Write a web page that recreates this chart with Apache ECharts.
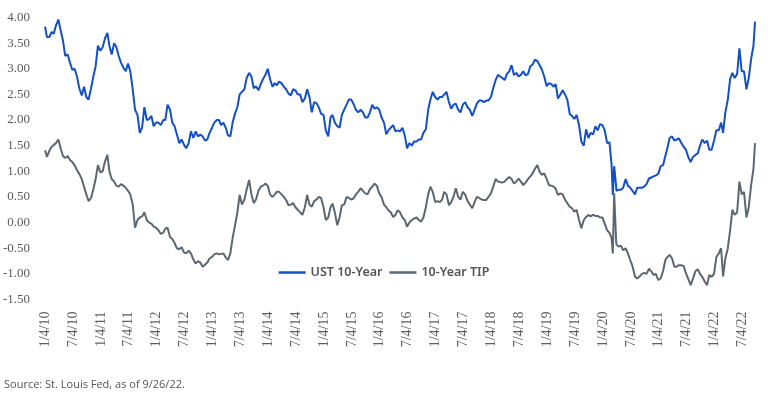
<!DOCTYPE html>
<html>
<head>
<meta charset="utf-8">
<title>UST 10-Year vs 10-Year TIP</title>
<script src="https://cdn.jsdelivr.net/npm/echarts@6/dist/echarts.min.js"></script>
<style>
  html, body { margin: 0; padding: 0; background: #fff; }
  #chart { width: 768px; height: 398px; }
</style>
</head>
<body>
<div id="chart"></div>
<script>
// semi-monthly readings, one line per year
const dates = [
  '2010-01-04','2010-01-16','2010-02-01','2010-02-16','2010-03-01','2010-03-16','2010-04-01','2010-04-16','2010-05-01','2010-05-16','2010-06-01','2010-06-16','2010-07-01','2010-07-16','2010-08-01','2010-08-16','2010-09-01','2010-09-16','2010-10-01','2010-10-16','2010-11-01','2010-11-16','2010-12-01','2010-12-16',
  '2011-01-01','2011-01-16','2011-02-01','2011-02-16','2011-03-01','2011-03-16','2011-04-01','2011-04-16','2011-05-01','2011-05-16','2011-06-01','2011-06-16','2011-07-01','2011-07-16','2011-08-01','2011-08-16','2011-09-01','2011-09-16','2011-10-01','2011-10-16','2011-11-01','2011-11-16','2011-12-01','2011-12-16',
  '2012-01-01','2012-01-16','2012-02-01','2012-02-16','2012-03-01','2012-03-16','2012-04-01','2012-04-16','2012-05-01','2012-05-16','2012-06-01','2012-06-16','2012-07-01','2012-07-16','2012-08-01','2012-08-16','2012-09-01','2012-09-16','2012-10-01','2012-10-16','2012-11-01','2012-11-16','2012-12-01','2012-12-16',
  '2013-01-01','2013-01-16','2013-02-01','2013-02-16','2013-03-01','2013-03-16','2013-04-01','2013-04-16','2013-05-01','2013-05-16','2013-06-01','2013-06-16','2013-07-01','2013-07-16','2013-08-01','2013-08-16','2013-09-01','2013-09-16','2013-10-01','2013-10-16','2013-11-01','2013-11-16','2013-12-01','2013-12-16',
  '2014-01-01','2014-01-16','2014-02-01','2014-02-16','2014-03-01','2014-03-16','2014-04-01','2014-04-16','2014-05-01','2014-05-16','2014-06-01','2014-06-16','2014-07-01','2014-07-16','2014-08-01','2014-08-16','2014-09-01','2014-09-16','2014-10-01','2014-10-16','2014-11-01','2014-11-16','2014-12-01','2014-12-16',
  '2015-01-01','2015-01-16','2015-02-01','2015-02-16','2015-03-01','2015-03-16','2015-04-01','2015-04-16','2015-05-01','2015-05-16','2015-06-01','2015-06-16','2015-07-01','2015-07-16','2015-08-01','2015-08-16','2015-09-01','2015-09-16','2015-10-01','2015-10-16','2015-11-01','2015-11-16','2015-12-01','2015-12-16',
  '2016-01-01','2016-01-16','2016-02-01','2016-02-16','2016-03-01','2016-03-16','2016-04-01','2016-04-16','2016-05-01','2016-05-16','2016-06-01','2016-06-16','2016-07-01','2016-07-16','2016-08-01','2016-08-16','2016-09-01','2016-09-16','2016-10-01','2016-10-16','2016-11-01','2016-11-16','2016-12-01','2016-12-16',
  '2017-01-01','2017-01-16','2017-02-01','2017-02-16','2017-03-01','2017-03-16','2017-04-01','2017-04-16','2017-05-01','2017-05-16','2017-06-01','2017-06-16','2017-07-01','2017-07-16','2017-08-01','2017-08-16','2017-09-01','2017-09-16','2017-10-01','2017-10-16','2017-11-01','2017-11-16','2017-12-01','2017-12-16',
  '2018-01-01','2018-01-16','2018-02-01','2018-02-16','2018-03-01','2018-03-16','2018-04-01','2018-04-16','2018-05-01','2018-05-16','2018-06-01','2018-06-16','2018-07-01','2018-07-16','2018-08-01','2018-08-16','2018-09-01','2018-09-16','2018-10-01','2018-10-16','2018-11-01','2018-11-16','2018-12-01','2018-12-16',
  '2019-01-01','2019-01-16','2019-02-01','2019-02-16','2019-03-01','2019-03-16','2019-04-01','2019-04-16','2019-05-01','2019-05-16','2019-06-01','2019-06-16','2019-07-01','2019-07-16','2019-08-01','2019-08-16','2019-09-01','2019-09-16','2019-10-01','2019-10-16','2019-11-01','2019-11-16','2019-12-01','2019-12-16',
  '2020-01-01','2020-01-16','2020-02-01','2020-02-16','2020-03-01','2020-03-09','2020-03-18','2020-03-31','2020-04-01','2020-04-16','2020-05-01','2020-05-16','2020-06-01','2020-06-16','2020-07-01','2020-07-16','2020-08-01','2020-08-16','2020-09-01','2020-09-16','2020-10-01','2020-10-16','2020-11-01','2020-11-16','2020-12-01','2020-12-16',
  '2021-01-01','2021-01-16','2021-02-01','2021-02-16','2021-03-01','2021-03-16','2021-04-01','2021-04-16','2021-05-01','2021-05-16','2021-06-01','2021-06-16','2021-07-01','2021-07-16','2021-08-01','2021-08-16','2021-09-01','2021-09-16','2021-10-01','2021-10-16','2021-11-01','2021-11-16','2021-12-01','2021-12-16',
  '2022-01-01','2022-01-16','2022-02-01','2022-02-16','2022-03-01','2022-03-16','2022-04-01','2022-04-16','2022-05-01','2022-05-16','2022-06-01','2022-06-16','2022-07-01','2022-07-16','2022-08-01','2022-08-16','2022-09-01','2022-09-16','2022-09-26'
]

const ust10 = [
  3.82,3.62,3.62,3.72,3.68,3.84,3.96,3.75,3.55,3.25,3.28,3.12,2.98,3.00,2.85,2.62,2.48,2.65,2.45,2.40,2.62,2.85,3.05,3.45,
  3.35,3.42,3.60,3.70,3.45,3.28,3.50,3.42,3.25,3.12,3.02,2.95,3.10,2.95,2.60,2.20,2.10,1.75,1.85,2.25,2.00,2.02,2.08,1.88,
  1.95,1.95,1.90,2.00,2.00,2.30,2.20,1.95,1.88,1.72,1.55,1.62,1.52,1.45,1.55,1.78,1.65,1.78,1.68,1.72,1.68,1.60,1.62,1.75,
  1.85,1.95,2.00,2.00,1.90,1.95,1.85,1.70,1.68,1.95,2.13,2.25,2.50,2.55,2.60,2.82,2.92,2.85,2.62,2.66,2.58,2.70,2.80,2.88,
  3.00,2.80,2.65,2.72,2.68,2.75,2.72,2.65,2.60,2.52,2.48,2.60,2.58,2.50,2.50,2.35,2.42,2.60,2.45,2.15,2.35,2.33,2.25,2.12,
  2.10,1.80,1.68,2.05,2.10,1.95,1.88,1.85,2.10,2.20,2.30,2.40,2.40,2.32,2.20,2.15,2.20,2.15,2.05,2.05,2.15,2.30,2.22,2.25,
  2.20,2.05,1.95,1.72,1.80,1.85,1.90,1.78,1.80,1.78,1.85,1.70,1.45,1.55,1.50,1.58,1.58,1.62,1.62,1.75,1.82,2.20,2.40,2.55,
  2.45,2.40,2.45,2.45,2.42,2.55,2.35,2.22,2.30,2.32,2.20,2.15,2.30,2.35,2.25,2.20,2.08,2.20,2.32,2.38,2.38,2.35,2.38,2.38,
  2.45,2.62,2.78,2.88,2.85,2.82,2.78,2.90,2.95,3.07,2.88,2.92,2.85,2.88,2.95,2.87,2.90,3.05,3.08,3.18,3.15,3.07,2.98,2.85,
  2.66,2.72,2.70,2.65,2.70,2.42,2.50,2.58,2.50,2.40,2.12,2.08,2.02,2.10,1.90,1.58,1.50,1.82,1.65,1.75,1.72,1.88,1.80,1.92,
  1.90,1.80,1.55,1.57,1.13,0.54,1.10,0.70,0.62,0.64,0.64,0.68,0.85,0.72,0.68,0.62,0.55,0.68,0.68,0.68,0.70,0.75,0.86,0.88,0.90,0.92,
  0.95,1.10,1.12,1.30,1.45,1.65,1.68,1.60,1.62,1.64,1.55,1.48,1.42,1.28,1.18,1.28,1.32,1.35,1.50,1.62,1.55,1.60,1.42,1.42,
  1.60,1.80,1.80,1.95,1.75,2.15,2.40,2.80,2.92,2.82,2.90,3.40,2.95,2.95,2.60,2.82,3.20,3.45,3.92
]

const tips10 = [
  1.41,1.28,1.40,1.48,1.45,1.55,1.62,1.45,1.30,1.26,1.30,1.22,1.18,1.12,1.02,0.95,0.85,0.70,0.55,0.42,0.48,0.65,0.85,1.12,
  0.98,1.00,1.20,1.32,1.00,0.85,0.80,0.72,0.70,0.75,0.72,0.68,0.62,0.55,0.35,-0.10,0.05,0.10,0.12,0.20,0.05,0.00,-0.02,-0.08,
  -0.10,-0.15,-0.22,-0.20,-0.12,-0.10,-0.28,-0.32,-0.40,-0.50,-0.52,-0.48,-0.58,-0.60,-0.55,-0.60,-0.72,-0.80,-0.75,-0.78,-0.86,-0.82,-0.78,-0.70,
  -0.67,-0.62,-0.60,-0.62,-0.62,-0.60,-0.68,-0.73,-0.60,-0.30,-0.05,0.20,0.54,0.35,0.45,0.65,0.83,0.55,0.38,0.45,0.62,0.70,0.72,0.76,
  0.72,0.55,0.50,0.55,0.60,0.60,0.55,0.50,0.44,0.34,0.35,0.38,0.30,0.25,0.20,0.15,0.30,0.54,0.35,0.31,0.42,0.45,0.50,0.48,
  0.30,0.05,0.10,0.30,0.37,0.20,-0.05,0.10,0.34,0.35,0.50,0.48,0.45,0.47,0.55,0.60,0.67,0.62,0.57,0.55,0.65,0.70,0.76,0.72,
  0.57,0.50,0.35,0.30,0.24,0.20,0.11,0.15,0.24,0.20,0.10,0.05,-0.08,0.00,0.05,0.08,0.10,0.05,0.02,0.10,0.30,0.55,0.70,0.60,
  0.40,0.42,0.40,0.45,0.60,0.55,0.34,0.40,0.50,0.67,0.50,0.45,0.60,0.55,0.42,0.35,0.28,0.40,0.50,0.48,0.45,0.44,0.44,0.50,
  0.57,0.70,0.85,0.80,0.83,0.78,0.80,0.85,0.89,0.85,0.76,0.80,0.86,0.80,0.73,0.78,0.85,0.90,0.96,1.05,1.12,0.99,0.93,0.96,
  0.85,0.73,0.72,0.70,0.66,0.54,0.57,0.55,0.45,0.38,0.31,0.28,0.21,0.25,0.05,-0.11,0.05,0.11,0.15,0.12,0.15,0.13,0.13,0.10,
  0.10,-0.02,-0.15,-0.20,-0.30,-0.60,0.57,-0.37,-0.42,-0.47,-0.45,-0.54,-0.50,-0.60,-0.73,-0.85,-1.05,-1.09,-1.05,-1.00,-0.98,-1.00,-0.90,-0.95,-1.02,-1.00,
  -1.12,-1.09,-0.95,-0.73,-0.67,-0.63,-0.70,-0.86,-0.86,-0.83,-0.83,-0.85,-0.99,-1.10,-1.22,-1.09,-0.95,-0.91,-1.00,-1.06,-1.15,-1.22,-1.02,-1.06,
  -1.00,-0.67,-0.60,-0.50,-1.05,-0.70,-0.50,-0.15,0.25,0.15,0.20,0.80,0.55,0.60,0.10,0.30,0.74,1.05,1.55
]

const seriesNames = ['UST 10-Year', '10-Year TIP']
const seriesColors = ['#1450c4', '#5d6770']
const sourceNote = 'Source: St. Louis Fed, as of 9/26/22.'

// x is counted in half-years from 1/4/10, so every tick lands on 1/4 or 7/4
const start = Date.UTC(2010, 0, 4)
const halfYear = 182.625 * 86400000
const toX = s => {
  const p = s.split('-').map(Number)
  return (Date.UTC(p[0], p[1] - 1, p[2]) - start) / halfYear
}
const xs = dates.map(toX)
const tickLabel = v => {
  if (Math.abs(v - Math.round(v)) > 1e-6) return ''
  const k = Math.round(v)
  const yy = 10 + Math.floor(k / 2)
  return (k % 2 === 0 ? '1/4/' : '7/4/') + yy
}

const chart = echarts.init(document.getElementById('chart'), null, { renderer: 'canvas' })

const option = {
  animation: false,
  backgroundColor: '#fff',
  grid: { left: 45, right: 13, top: 17.5, bottom: 98.5 },
  legend: {
    data: seriesNames,
    left: 'center',
    top: 261,
    icon: 'rect',
    itemWidth: 27,
    itemHeight: 2.5,
    itemGap: 7,
    textStyle: {
      fontFamily: 'Noto Sans',
      fontWeight: 600,
      fontSize: 12.5,
      color: '#555'
    }
  },
  xAxis: {
    type: 'value',
    min: 0,
    max: xs[xs.length - 1],
    interval: 1,
    axisLine: { show: false },
    axisTick: { show: false },
    splitLine: { show: false },
    axisLabel: {
      rotate: 90,
      margin: 12,
      fontFamily: 'Liberation Serif',
      fontSize: 14,
      color: '#5f5f5f',
      formatter: tickLabel
    }
  },
  yAxis: {
    type: 'value',
    min: -1.5,
    max: 4,
    interval: 0.5,
    axisLine: { show: false },
    axisTick: { show: false },
    splitLine: { show: false },
    axisLabel: {
      margin: 15,
      fontFamily: 'Liberation Serif',
      fontSize: 13,
      color: '#5a5a5a',
      formatter: v => v.toFixed(2)
    }
  },
  series: [
    {
      name: seriesNames[0],
      type: 'line',
      showSymbol: false,
      data: xs.map((x, i) => [x, ust10[i]]),
      lineStyle: { width: 2, color: seriesColors[0] },
      itemStyle: { color: seriesColors[0] }
    },
    {
      name: seriesNames[1],
      type: 'line',
      showSymbol: false,
      data: xs.map((x, i) => [x, tips10[i]]),
      lineStyle: { width: 2, color: seriesColors[1] },
      itemStyle: { color: seriesColors[1] }
    }
  ],
  graphic: [
    {
      type: 'text',
      left: 4,
      top: 379,
      style: {
        text: sourceNote,
        fontFamily: 'Open Sans',
        fontSize: 11,
        fill: '#555'
      }
    }
  ]
}

chart.setOption(option)
if (dates.length !== ust10.length || dates.length !== tips10.length) {
  console.error('length mismatch', dates.length, ust10.length, tips10.length)
}
</script>
</body>
</html>
